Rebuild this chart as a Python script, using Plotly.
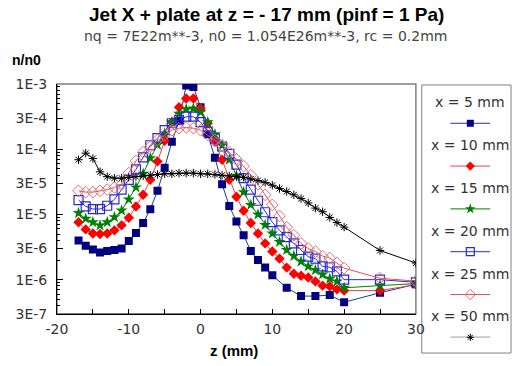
import plotly.graph_objects as go

# ---- data: n/n0 along z for several radial positions x ----
z_main = list(range(-17, 21)) + [25, 30]
z_x5 = list(range(-17, 11)) + [12, 14, 16, 18, 20, 25, 30]

n_x5 = [4.0e-6, 3.3e-6, 2.9e-6, 2.6e-6, 2.75e-6, 2.85e-6, 3.0e-6, 3.9e-6, 5.2e-6, 7.4e-6,
        1.2e-5, 2.3e-5, 5.2e-5, 1.3e-4, 2.7e-4, 9.5e-4, 9.0e-4, 4.4e-4, 1.7e-4, 7.4e-5,
        2.9e-5, 1.35e-5, 7.8e-6, 4.8e-6, 2.75e-6, 2.0e-6, 1.54e-6, 1.17e-6,
        7.5e-7, 5.6e-7, 5.6e-7, 5.8e-7, 4.5e-7, 6.3e-7, 8.5e-7]

n_x10 = [7.6e-6, 5.9e-6, 5.1e-6, 5.0e-6, 5.1e-6, 5.7e-6, 6.8e-6, 8.9e-6, 1.32e-5, 2.0e-5,
         3.4e-5, 6.5e-5, 1.35e-4, 2.6e-4, 4.4e-4, 6.0e-4, 6.0e-4, 4.2e-4, 2.5e-4, 1.3e-4,
         6.9e-5, 3.4e-5, 1.87e-5, 1.14e-5, 7.4e-6, 5.1e-6, 3.6e-6, 2.7e-6, 2.1e-6, 1.53e-6,
         1.23e-6, 1.15e-6, 1.08e-6, 9.4e-7, 8.1e-7, 7.9e-7, 7.1e-7, 6.8e-7, 6.8e-7, 8.4e-7]

n_x15 = [1.05e-5, 8.6e-6, 7.6e-6, 6.8e-6, 7.6e-6, 9.1e-6, 1.15e-5, 1.7e-5, 2.6e-5, 4.2e-5,
         7.3e-5, 1.17e-4, 1.75e-4, 2.6e-4, 3.5e-4, 4.1e-4, 4.2e-4, 3.7e-4, 2.6e-4, 1.7e-4,
         1.15e-4, 6.9e-5, 3.9e-5, 2.2e-5, 1.4e-5, 1.0e-5, 6.9e-6, 5.1e-6, 3.8e-6, 2.85e-6,
         2.3e-6, 1.9e-6, 1.6e-6, 1.4e-6, 1.2e-6, 1.03e-6, 9.4e-7, 7.5e-7, 8.1e-7, 8.7e-7]

n_x20 = [1.66e-5, 1.33e-5, 1.21e-5, 1.21e-5, 1.36e-5, 1.7e-5, 2.4e-5, 3.4e-5, 4.9e-5, 7.5e-5,
         1.15e-4, 1.48e-4, 1.96e-4, 2.5e-4, 2.8e-4, 3.15e-4, 3.15e-4, 2.6e-4, 1.86e-4, 1.45e-4,
         1.1e-4, 8.5e-5, 5.8e-5, 3.6e-5, 2.4e-5, 1.62e-5, 1.08e-5, 7.6e-6, 5.7e-6, 4.5e-6,
         3.6e-6, 2.85e-6, 2.25e-6, 2.1e-6, 1.6e-6, 1.55e-6, 1.34e-6, 1.0e-6, 1.0e-6, 9.1e-7]

n_x25 = [2.3e-5, 2.2e-5, 2.2e-5, 2.3e-5, 2.4e-5, 2.6e-5, 2.9e-5, 4.3e-5, 6.6e-5, 9.0e-5,
         1.1e-4, 1.39e-4, 1.65e-4, 1.96e-4, 2.1e-4, 2.15e-4, 2.1e-4, 1.96e-4, 1.65e-4, 1.4e-4,
         1.15e-4, 9.0e-5, 7.0e-5, 5.5e-5, 4.0e-5, 2.9e-5, 2.0e-5, 1.4e-5, 9.5e-6, 6.4e-6,
         4.8e-6, 3.6e-6, 3.0e-6, 2.7e-6, 2.3e-6, 2.15e-6, 1.8e-6, 1.5e-6, 1.05e-6, 9.5e-7]

n_x50 = [6.9e-5, 8.7e-5, 7.2e-5, 4.5e-5, 3.8e-5, 3.6e-5, 3.6e-5, 3.7e-5, 3.8e-5, 3.9e-5,
         4.0e-5, 4.1e-5, 4.2e-5, 4.2e-5, 4.3e-5, 4.3e-5, 4.3e-5, 4.2e-5, 4.2e-5, 4.1e-5,
         4.0e-5, 3.9e-5, 3.8e-5, 3.7e-5, 3.5e-5, 3.3e-5, 3.1e-5, 2.8e-5, 2.5e-5, 2.25e-5,
         2.0e-5, 1.75e-5, 1.5e-5, 1.25e-5, 1.1e-5, 9.0e-6, 7.5e-6, 6.4e-6, 2.8e-6, 1.8e-6]

series_names = ["x = 5 mm", "x = 10 mm", "x = 15 mm", "x = 20 mm", "x = 25 mm", "x = 50 mm"]

y_tickvals = [3e-7, 1e-6, 3e-6, 1e-5, 3e-5, 1e-4, 3e-4, 1e-3]
y_ticktext = ["3E-7", "1E-6", "3E-6", "1E-5", "3E-5", "1E-4", "3E-4", "1E-3"]
x_tickvals = [-20, -10, 0, 10, 20, 30]
x_minorvals = [-15, -5, 5, 15, 25]

# ---- styles ----
styles = [
    dict(color="#000080", line="#1f3a93", symbol="square", size=8, lw=0),
    dict(color="#ff0000", line="#e8404a", symbol="diamond", size=8, lw=0),
    dict(color="#008000", line="#008000", symbol="star", size=9, lw=0),
    dict(color="#2a2ad0", line="#2a2ad0", symbol="square-open", size=9, lw=1.2),
    dict(color="#e07070", line="#e05060", symbol="diamond-open", size=9, lw=1.0),
    dict(color="#000000", line="#000000", symbol="asterisk-open", size=7, lw=1.0),
]

W, H = 523, 366
ML, MR, MT, MB = 57, 3, 84, 6
PW, PH = W - ML - MR, H - MT - MB


def px_x(p):
    return (p - ML) / PW


def px_y(p):
    return (H - MB - p) / PH


FONT = "Liberation Sans, Arial, sans-serif"
WIDE = "DejaVu Sans, Verdana, sans-serif"

fig = go.Figure()

zs = [z_x5, z_main, z_main, z_main, z_main, z_main]
ns = [n_x5, n_x10, n_x15, n_x20, n_x25, n_x50]
for name, z, n, st in zip(series_names, zs, ns, styles):
    fig.add_trace(go.Scatter(
        x=z, y=n, name=name, mode="lines+markers",
        line=dict(color=st["line"], width=1),
        marker=dict(symbol=st["symbol"], size=st["size"], color=st["color"],
                    line=dict(color=st["color"], width=st["lw"])),
        showlegend=False, xaxis="x", yaxis="y", cliponaxis=True,
    ))

# legend samples drawn on a small auxiliary subplot
ROW = 43.6          # pixel pitch of legend rows
TOP_PAD = 0.6       # room above the first sample row for its label
for k, st in enumerate(styles):
    fig.add_trace(go.Scatter(
        x=[0, 2], y=[k, k], mode="lines", line=dict(color=st["line"], width=1),
        showlegend=False, xaxis="x2", yaxis="y2", hoverinfo="skip", cliponaxis=False,
    ))
    fig.add_trace(go.Scatter(
        x=[1], y=[k], mode="markers",
        marker=dict(symbol=st["symbol"], size=st["size"] - 1, color=st["color"],
                    line=dict(color=st["color"], width=st["lw"])),
        showlegend=False, xaxis="x2", yaxis="y2", hoverinfo="skip", cliponaxis=False,
    ))

annotations = []
for k, name in enumerate(series_names):
    annotations.append(dict(
        x=1, y=k - 0.49, xref="x2", yref="y2", text=name, showarrow=False,
        font=dict(family=WIDE, size=14, color="#333333"), xanchor="center", yanchor="middle",
    ))

annotations += [
    dict(x=px_x(271), y=px_y(13), xref="paper", yref="paper", showarrow=False,
         text="<b>Jet X + plate at z = - 17 mm (pinf = 1 Pa)</b>",
         font=dict(family=FONT, size=19, color="#000000"), xanchor="center", yanchor="middle"),
    dict(x=px_x(270), y=px_y(35), xref="paper", yref="paper", showarrow=False,
         text="nq = 7E22m**-3, n0 = 1.054E26m**-3, rc = 0.2mm",
         font=dict(family=WIDE, size=14, color="#444444"), xanchor="center", yanchor="middle"),
    dict(x=px_x(9), y=px_y(60), xref="paper", yref="paper", showarrow=False,
         text="<b>n/n0</b>",
         font=dict(family=FONT, size=14, color="#000000"), xanchor="left", yanchor="middle"),
    dict(x=px_x(238), y=px_y(355), xref="paper", yref="paper", showarrow=False,
         text="<b>z (mm)</b>",
         font=dict(family=FONT, size=15, color="#000000"), xanchor="center", yanchor="middle"),
]

shapes = [
    # plot frame
    dict(type="rect", xref="x domain", yref="y domain", x0=0, x1=1, y0=0, y1=1,
         line=dict(color="#808080", width=1.5), layer="below"),
    # legend box
    dict(type="rect", xref="paper", yref="paper",
         x0=px_x(429), x1=px_x(520), y0=px_y(358), y1=px_y(85),
         line=dict(color="#808080", width=1), fillcolor="white", layer="below"),
]

minor_y = [m * 10.0 ** e for e in range(-7, -3) for m in range(2, 10)
           if 3e-7 < m * 10.0 ** e < 1e-3]

fig.update_layout(
    width=W, height=H, margin=dict(l=ML, r=MR, t=MT, b=MB),
    paper_bgcolor="white", plot_bgcolor="white",
    annotations=annotations, shapes=shapes, showlegend=False,
    xaxis=dict(
        domain=[0, px_x(423)], range=[-20, 30], anchor="y",
        tickmode="array", tickvals=x_tickvals, ticktext=[str(v) for v in x_tickvals],
        ticks="inside", ticklen=5, tickcolor="#000000",
        minor=dict(tickmode="array", tickvals=x_minorvals, ticks="inside", ticklen=5,
                   tickcolor="#000000"),
        showline=True, linecolor="#000000", linewidth=1, mirror=False,
        showgrid=False, zeroline=False, ticklabelstandoff=2,
        tickfont=dict(family=WIDE, size=14, color="#333333"),
    ),
    yaxis=dict(
        domain=[px_y(318), 1], type="log", range=[-6.5229, -3], anchor="x",
        tickmode="array", tickvals=y_tickvals, ticktext=y_ticktext,
        ticks="inside", ticklen=6, tickcolor="#000000",
        minor=dict(tickmode="array", tickvals=minor_y, ticks="inside", ticklen=3,
                   tickcolor="#000000"),
        showline=True, linecolor="#000000", linewidth=1, mirror=False,
        showgrid=False, zeroline=False, ticklabelstandoff=6,
        tickfont=dict(family=WIDE, size=14, color="#333333"),
    ),
    xaxis2=dict(domain=[px_x(458), px_x(499)], range=[0, 2], anchor="y2", visible=False),
    yaxis2=dict(domain=[px_y(342), px_y(124 - TOP_PAD * ROW)], range=[5, -TOP_PAD],
                anchor="x2", visible=False),
)

fig.write_html("out.html")
